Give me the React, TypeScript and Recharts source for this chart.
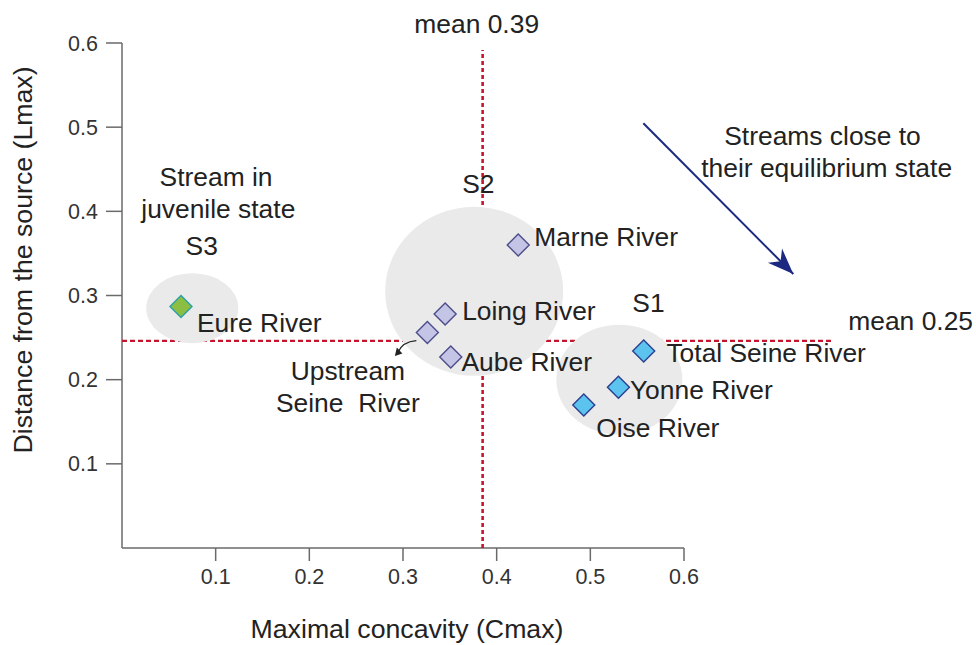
import React from 'react';
import { ScatterChart, Scatter, XAxis, YAxis, ReferenceLine, ReferenceDot, Label } from 'recharts';

// ---------- data ----------
const rivers = [
  'Eure River',
  'Marne River',
  'Loing River',
  'Upstream Seine River',
  'Aube River',
  'Total Seine River',
  'Yonne River',
  'Oise River',
];
const cmax = [0.063, 0.423, 0.345, 0.326, 0.351, 0.557, 0.530, 0.493];
const lmax = [0.287, 0.360, 0.278, 0.256, 0.227, 0.234, 0.191, 0.170];
const groups = ['S3', 'S2', 'S2', 'S2', 'S2', 'S1', 'S1', 'S1'];

const groupNames = ['S1', 'S2', 'S3'];
const groupCenterX = [0.531, 0.376, 0.075];
const groupCenterY = [0.200, 0.305, 0.285];

const meanCmax = 0.385;
const meanLmax = 0.246;
const meanCmaxLabel = 'mean 0.39';
const meanLmaxLabel = 'mean 0.25';
const meanCmaxLineTop = 0.5917; // where the vertical mean line stops
const meanLmaxLineEnd = 0.757; // where the horizontal mean line stops

const xDomain = [0, 0.6];
const yDomain = [0, 0.6];
const xTicks = [0.1, 0.2, 0.3, 0.4, 0.5, 0.6];
const yTicks = [0.1, 0.2, 0.3, 0.4, 0.5, 0.6];

const xTitle = 'Maximal concavity (Cmax)';
const yTitle = 'Distance from the source (Lmax)';

const annotationTexts = ['Stream in', 'juvenile state', 'S3', 'S2', 'S1', meanCmaxLabel, meanLmaxLabel, 'Streams close to', 'their equilibrium state'];
const annotationX = [0.1004, 0.1028, 0.0851, 0.3804, 0.5621, 0.3787, 0.7754, 0.7479, 0.7523];
const annotationY = [0.4305, 0.3917, 0.3481, 0.4221, 0.2808, 0.6115, 0.2590, 0.4788, 0.4411];
const annotationAnchor = ['middle', 'middle', 'middle', 'middle', 'middle', 'middle', 'start', 'middle', 'middle'];

const trendStart = { x: 0.5566, y: 0.5046 };
const trendEnd = { x: 0.7167, y: 0.3255 };

// ---------- styles ----------
const FONT = '"Liberation Sans", Arial, Helvetica, sans-serif';
const TEXT = '#222222';
const LABEL_SIZE = 26.4;
const TITLE_SIZE = 26.7;
const TICK_SIZE = 21.5;
const MEAN_RED = '#C4152C';

const groupStyle: Record<string, { fill: string; stroke: string; rx: number; ry: number }> = {
  S1: { fill: '#5CC3EF', stroke: '#2A3F8F', rx: 63, ry: 55 },
  S2: { fill: '#C4C4E6', stroke: '#4D4D8A', rx: 89, ry: 84.5 },
  S3: { fill: '#8BBE43', stroke: '#2BA1A6', rx: 46, ry: 35 },
};

const labelStyle: Record<string, { dx: number; dy: number; anchor: string; lines: string[] }> = {
  'Eure River': { dx: 16, dy: 25.5, anchor: 'start', lines: ['Eure River'] },
  'Marne River': { dx: 16, dy: 0.5, anchor: 'start', lines: ['Marne River'] },
  'Loing River': { dx: 17, dy: 6, anchor: 'start', lines: ['Loing River'] },
  'Upstream Seine River': { dx: -79.5, dy: 47.3, anchor: 'middle', lines: ['Upstream', 'Seine  River'] },
  'Aube River': { dx: 10.7, dy: 14.3, anchor: 'start', lines: ['Aube River'] },
  'Total Seine River': { dx: 22.7, dy: 10.7, anchor: 'start', lines: ['Total Seine River'] },
  'Yonne River': { dx: 11.5, dy: 11.6, anchor: 'start', lines: ['Yonne River'] },
  'Oise River': { dx: 12.4, dy: 32, anchor: 'start', lines: ['Oise River'] },
};

const rows = rivers.map((name, i) => ({ name, x: cmax[i], y: lmax[i], group: groups[i] }));
const groupRows = groupNames.map((g, i) => ({ name: g, x: groupCenterX[i], y: groupCenterY[i] }));
const meanVRows = [
  { x: meanCmax, y: yDomain[0] },
  { x: meanCmax, y: meanCmaxLineTop },
];
const meanHRows = [
  { x: xDomain[0], y: meanLmax },
  { x: xDomain[1], y: meanLmax },
];

function makeDiamond(fill: string, stroke: string) {
  return (props: any) => {
    const { cx, cy, payload } = props;
    if (cx == null || cy == null) return null;
    const s = 11;
    const lab = labelStyle[payload.name];
    return (
      <g>
        <polygon
          points={`${cx},${cy - s} ${cx + s},${cy} ${cx},${cy + s} ${cx - s},${cy}`}
          fill={fill}
          stroke={stroke}
          strokeWidth={1.4}
        />
        {lab &&
          lab.lines.map((t, k) => (
            <text
              key={k}
              x={cx + lab.dx}
              y={cy + lab.dy + k * 31.7}
              textAnchor={lab.anchor as any}
              fontSize={LABEL_SIZE}
              fontFamily={FONT}
              fill={TEXT}
              style={{ whiteSpace: 'pre' }}
            >
              {t}
            </text>
          ))}
      </g>
    );
  };
}

const EllipseShape = (props: any) => {
  const { cx, cy, payload } = props;
  if (cx == null || cy == null) return null;
  const st = groupStyle[payload.name];
  return <ellipse cx={cx} cy={cy} rx={st.rx} ry={st.ry} fill="#EAEAEA" />;
};

const NoShape = () => <g />;

const XTick = (p: any) => (
  <text x={p.x} y={p.y} dy={15} textAnchor="middle" fontSize={TICK_SIZE} fontFamily={FONT} fill="#333333">
    {Number(p.payload.value).toFixed(1)}
  </text>
);
const YTick = (p: any) => (
  <text x={p.x} y={p.y} dy={7.5} textAnchor="end" fontSize={TICK_SIZE} fontFamily={FONT} fill="#333333">
    {Number(p.payload.value).toFixed(1)}
  </text>
);

const upstreamIdx = rivers.indexOf('Upstream Seine River');

export default function App() {
  return (
    <div style={{ position: 'absolute', left: 0, top: 0, width: 976, height: 645, background: '#ffffff' }}>
      <ScatterChart width={976} height={645} margin={{ top: 43, right: 292, bottom: 0, left: 0 }}>
        <XAxis
          type="number"
          dataKey="x"
          domain={xDomain}
          ticks={xTicks}
          height={97}
          tickSize={13}
          tickMargin={8}
          axisLine={{ stroke: '#6A6A6A', strokeWidth: 1.5 }}
          tickLine={{ stroke: '#6A6A6A', strokeWidth: 1.5 }}
          tick={<XTick />}
        >
          <Label
            content={(p: any) => {
              const vb = p.viewBox || { x: 122, y: 548, width: 562 };
              return (
                <text x={vb.x + vb.width / 2 + 4} y={vb.y + 90.3} textAnchor="middle" fontSize={TITLE_SIZE} fontFamily={FONT} fill={TEXT}>
                  {xTitle}
                </text>
              );
            }}
          />
        </XAxis>
        <YAxis
          type="number"
          dataKey="y"
          domain={yDomain}
          ticks={yTicks}
          width={122}
          tickSize={16}
          tickMargin={8}
          axisLine={{ stroke: '#6A6A6A', strokeWidth: 1.5 }}
          tickLine={{ stroke: '#6A6A6A', strokeWidth: 1.5 }}
          tick={<YTick />}
        >
          <Label
            content={(p: any) => {
              const vb = p.viewBox || { x: 0, y: 43, width: 122, height: 505 };
              const cx = vb.x + 32;
              const cy = vb.y + 217;
              return (
                <text x={cx} y={cy} transform={`rotate(-90 ${cx} ${cy})`} textAnchor="middle" fontSize={TITLE_SIZE} fontFamily={FONT} fill={TEXT}>
                  {yTitle}
                </text>
              );
            }}
          />
        </YAxis>

        {/* mean lines (line-only series placed before the ellipses so the ellipses cover them) */}
        <Scatter
          name="meanCmax"
          data={meanVRows}
          fill="none"
          isAnimationActive={false}
          line={{ stroke: MEAN_RED, strokeWidth: 2.6, strokeDasharray: '4 3', fill: 'none' }}
          shape={<NoShape />}
        />
        <Scatter
          name="meanLmax"
          data={meanHRows}
          fill="none"
          isAnimationActive={false}
          line={{ stroke: MEAN_RED, strokeWidth: 2.2, strokeDasharray: '5 3', fill: 'none' }}
          shape={<NoShape />}
        />
        <ReferenceLine
          segment={[{ x: xDomain[1], y: meanLmax }, { x: meanLmaxLineEnd, y: meanLmax }]}
          stroke={MEAN_RED}
          strokeWidth={2.2}
          strokeDasharray="5 3"
          strokeDashoffset={2}
          ifOverflow="visible"
        />

        {/* group ellipses */}
        <Scatter name="groups" data={groupRows} isAnimationActive={false} shape={<EllipseShape />} />

        {/* trend arrow */}
        <ReferenceLine segment={[trendStart, trendEnd]} stroke="#1B2A80" strokeWidth={2} ifOverflow="visible" />
        <ReferenceDot
          x={trendEnd.x}
          y={trendEnd.y}
          r={1}
          ifOverflow="visible"
          shape={(p: any) => {
            const { cx, cy } = p;
            const ang = Math.atan2(150.7, 150);
            const L = 26;
            const W = 10;
            const bx = cx - L * Math.cos(ang);
            const by = cy - L * Math.sin(ang);
            const nx = -Math.sin(ang);
            const ny = Math.cos(ang);
            const ix = cx - (L - 8) * Math.cos(ang);
            const iy = cy - (L - 8) * Math.sin(ang);
            return (
              <polygon
                points={`${cx},${cy} ${bx + nx * W},${by + ny * W} ${ix},${iy} ${bx - nx * W},${by - ny * W}`}
                fill="#1B2A80"
              />
            );
          }}
        />

        {/* data */}
        {groupNames.map((g) => (
          <Scatter
            key={g}
            name={g}
            data={rows.filter((r) => r.group === g)}
            isAnimationActive={false}
            shape={makeDiamond(groupStyle[g].fill, groupStyle[g].stroke)}
          />
        ))}

        {/* small arrow from Upstream Seine point to its label */}
        <ReferenceDot
          x={cmax[upstreamIdx]}
          y={lmax[upstreamIdx]}
          r={1}
          ifOverflow="visible"
          shape={(p: any) => {
            const { cx, cy } = p;
            const sx = cx - 11;
            const sy = cy + 8;
            const tx = cx - 31;
            const ty = cy + 22;
            return (
              <g>
                <path d={`M${sx},${sy} Q${cx - 25},${cy + 9} ${tx + 1.5},${ty - 2}`} fill="none" stroke="#222" strokeWidth={1.3} />
                <polygon points={`${tx - 1.5},${ty + 1.5} ${tx + 0.5},${ty - 7} ${tx + 6},${ty - 1}`} fill="#222" />
              </g>
            );
          }}
        />

        {/* annotations */}
        {annotationTexts.map((t, i) => (
          <ReferenceDot
            key={t}
            x={annotationX[i]}
            y={annotationY[i]}
            r={1}
            ifOverflow="visible"
            shape={(p: any) => (
              <text x={p.cx} y={p.cy} textAnchor={annotationAnchor[i] as any} fontSize={LABEL_SIZE} fontFamily={FONT} fill={TEXT}>
                {t}
              </text>
            )}
          />
        ))}
      </ScatterChart>
    </div>
  );
}
